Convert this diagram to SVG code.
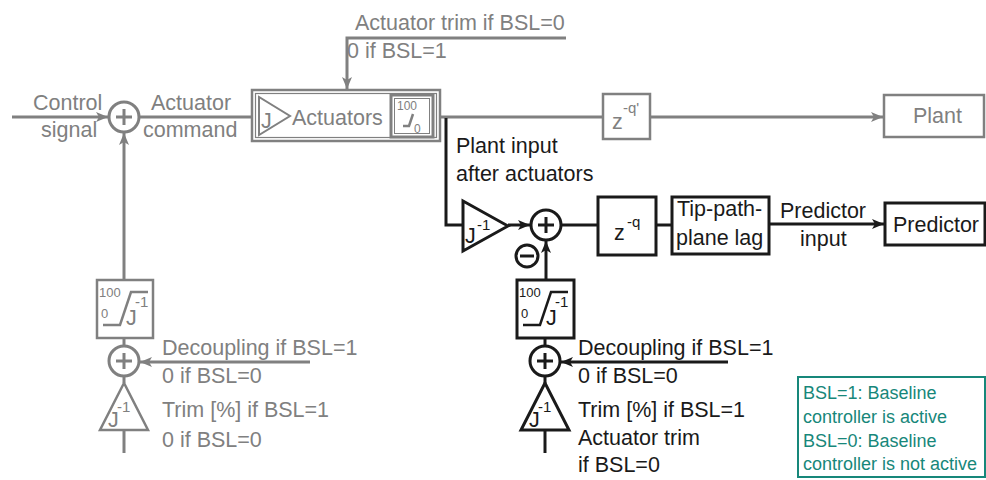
<svg xmlns="http://www.w3.org/2000/svg" width="986" height="480" viewBox="0 0 986 480">
<style>
  .g{stroke:#808080;fill:none;stroke-width:3}
  .k{stroke:#1a1a1a;fill:none;stroke-width:3}
  .gb{stroke:#808080;fill:#fff;stroke-width:2.5}
  .kb{stroke:#1a1a1a;fill:#fff;stroke-width:3}
  text{font-family:"Liberation Sans",Arial,sans-serif;font-size:21.5px}
  .tg{fill:#808080}
  .tk{fill:#1a1a1a}
  .sm{font-size:12px}
  .sup{font-size:15px}
  .s13{font-size:13px}
  .teal{fill:#17877a;font-size:18px}
</style>
<defs>
  <marker id="ag" markerUnits="userSpaceOnUse" markerWidth="14" markerHeight="12" refX="12" refY="6" orient="auto">
    <path d="M0,1 L12,6 L0,11 L3,6 Z" fill="#808080"/>
  </marker>
  <marker id="ak" markerUnits="userSpaceOnUse" markerWidth="14" markerHeight="12" refX="12" refY="6" orient="auto">
    <path d="M0,1 L12,6 L0,11 L3,6 Z" fill="#1a1a1a"/>
  </marker>
</defs>

<g id="connectors">
  <line class="g" x1="12" y1="117" x2="108" y2="117" marker-end="url(#ag)"/>
  <line class="g" x1="140" y1="117" x2="252" y2="117"/>
  <polyline class="g" points="566,38 347,38 347,89" marker-end="url(#ag)"/>
  <line class="g" x1="440" y1="117" x2="603" y2="117"/>
  <line class="g" x1="650" y1="117" x2="883" y2="117" marker-end="url(#ag)"/>
  <line class="g" x1="124" y1="280" x2="124" y2="133" marker-end="url(#ag)"/>
  <line class="g" x1="124" y1="338" x2="124" y2="346"/>
  <line class="g" x1="310" y1="362" x2="140" y2="362" marker-end="url(#ag)"/>
  <line class="g" x1="124" y1="376" x2="124" y2="383"/>
  <line class="g" x1="124" y1="430" x2="124" y2="453"/>
  <polyline class="k" points="446,118 446,225 463,225"/>
  <line class="k" x1="508" y1="225" x2="530" y2="225" marker-end="url(#ak)"/>
  <line class="k" x1="546" y1="280" x2="546" y2="241" marker-end="url(#ak)"/>
  <line class="k" x1="561" y1="225" x2="598" y2="225"/>
  <line class="k" x1="656" y1="225" x2="672" y2="225"/>
  <line class="k" x1="769" y1="224" x2="884" y2="224" marker-end="url(#ak)"/>
  <line class="k" x1="545" y1="338" x2="545" y2="346"/>
  <line class="k" x1="728" y1="362" x2="561" y2="362" marker-end="url(#ak)"/>
  <line class="k" x1="545" y1="376" x2="545" y2="383"/>
  <line class="k" x1="545" y1="430" x2="545" y2="453"/>
</g>

<g id="labels">
  <text class="tg" x="33" y="110">Control</text>
  <text class="tg" x="41" y="137">signal</text>
  <text class="tg" x="151" y="110">Actuator</text>
  <text class="tg" x="143" y="137">command</text>
  <text class="tg" x="355" y="30">Actuator trim if BSL=0</text>
  <text class="tg" x="347" y="58">0 if BSL=1</text>
  <text class="tk" x="456" y="153">Plant input</text>
  <text class="tk" x="456" y="181">after actuators</text>
  <text class="tk" x="780" y="218">Predictor</text>
  <text class="tk" x="800" y="246">input</text>
  <text class="tg" x="162" y="355">Decoupling if BSL=1</text>
  <text class="tg" x="162" y="383">0 if BSL=0</text>
  <text class="tg" x="162" y="417">Trim [%] if BSL=1</text>
  <text class="tg" x="162" y="447">0 if BSL=0</text>
  <text class="tk" x="578" y="355">Decoupling if BSL=1</text>
  <text class="tk" x="578" y="383">0 if BSL=0</text>
  <text class="tk" x="578" y="417">Trim [%] if BSL=1</text>
  <text class="tk" x="578" y="445">Actuator trim</text>
  <text class="tk" x="578" y="472">if BSL=0</text>
</g>

<g id="sum-top">
  <circle class="g" cx="124" cy="117" r="15" fill="#fff"/>
  <path class="g" d="M116,117 H132 M124,109 V125" stroke-width="2.5"/>
</g>

<g id="actuators">
  <rect class="gb" x="252" y="90" width="188" height="51" stroke-width="3"/>
  <rect x="255.5" y="93.5" width="181" height="44" fill="none" stroke="#808080" stroke-width="1.2"/>
  <polygon points="259,97 259,135 290,116" fill="none" stroke="#808080" stroke-width="2"/>
  <text class="tg" x="261" y="128">J</text>
  <text class="tg" x="292" y="125">Actuators</text>
  <rect x="391" y="95" width="42" height="42" fill="none" stroke="#808080" stroke-width="3"/>
  <rect x="394.5" y="98.5" width="35" height="35" fill="none" stroke="#808080" stroke-width="1"/>
  <text class="tg sm" x="397" y="110">100</text>
  <polyline points="403,126 409,126 413,114" fill="none" stroke="#808080" stroke-width="2.5"/>
  <text class="tg sm" x="414" y="133">0</text>
</g>

<g id="delay-plant">
  <rect class="gb" x="603" y="94" width="47" height="45"/>
  <text class="tg" x="612" y="129">z</text>
  <text class="tg sup" x="623" y="113">-q'</text>
</g>

<g id="plant">
  <rect class="gb" x="884" y="95" width="100" height="42"/>
  <text class="tg" x="913" y="123">Plant</text>
</g>

<g id="sat-left">
  <rect class="gb" x="97" y="280" width="56" height="58"/>
  <text class="tg s13" x="99" y="297">100</text>
  <text class="tg s13" x="101" y="318">0</text>
  <polyline points="103,325 120,325 131,292 148,292" fill="none" stroke="#808080" stroke-width="2.5"/>
  <text class="tg" x="126" y="325">J</text>
  <text class="tg sup" x="135" y="307">-1</text>
</g>

<g id="sum-left">
  <circle class="g" cx="124" cy="361" r="15" fill="#fff"/>
  <path class="g" d="M116,361 H132 M124,353 V369" stroke-width="2.5"/>
</g>

<g id="gain-left">
  <polygon points="124,383 100,430 148,430" fill="#fff" stroke="#808080" stroke-width="2.5"/>
  <text class="tg" x="108" y="427" font-size="19">J</text>
  <text class="tg sup" x="117" y="412" font-size="14">-1</text>
</g>

<g id="gain-jinv">
  <polygon points="463,201 463,251 508,226" fill="#fff" stroke="#1a1a1a" stroke-width="3"/>
  <text class="tk" x="465" y="243">J</text>
  <text class="tk sup" x="477" y="230">-1</text>
</g>

<g id="sum-right">
  <circle class="k" cx="546" cy="225" r="15" fill="#fff"/>
  <path class="k" d="M538,225 H554 M546,217 V233" stroke-width="2.5"/>
</g>

<g id="minus">
  <circle class="k" cx="527" cy="256" r="11" fill="#fff" stroke-width="2.5"/>
  <line class="k" x1="520" y1="256" x2="534" y2="256" stroke-width="2.5"/>
</g>

<g id="delay-q">
  <rect class="kb" x="598" y="197" width="58" height="58"/>
  <text class="tk" x="614" y="240">z</text>
  <text class="tk sup" x="627" y="227" font-size="17">-q</text>
</g>

<g id="tpp-lag">
  <rect class="kb" x="672" y="197" width="97" height="57"/>
  <text class="tk" x="677" y="216">Tip-path-</text>
  <text class="tk" x="676" y="245">plane lag</text>
</g>

<g id="predictor">
  <rect class="kb" x="885" y="203" width="100" height="42"/>
  <text class="tk" x="893" y="232">Predictor</text>
</g>

<g id="sat-right">
  <rect class="kb" x="517" y="280" width="57" height="58"/>
  <text class="tk s13" x="519" y="297">100</text>
  <text class="tk s13" x="521" y="318">0</text>
  <polyline points="523,325 540,325 551,292 568,292" fill="none" stroke="#1a1a1a" stroke-width="2.5"/>
  <text class="tk" x="546" y="325">J</text>
  <text class="tk sup" x="555" y="307">-1</text>
</g>

<g id="sum-right-low">
  <circle class="k" cx="545" cy="361" r="15" fill="#fff"/>
  <path class="k" d="M537,361 H553 M545,353 V369" stroke-width="2.5"/>
</g>

<g id="gain-right">
  <polygon points="545,383 521,430 569,430" fill="#fff" stroke="#1a1a1a" stroke-width="3"/>
  <text class="tk" x="529" y="427" font-size="19">J</text>
  <text class="tk sup" x="538" y="412" font-size="14">-1</text>
</g>

<g id="legend">
  <rect x="798" y="377" width="187" height="100" fill="#fff" stroke="#17877a" stroke-width="2"/>
  <text class="teal" x="803" y="399">BSL=1: Baseline</text>
  <text class="teal" x="803" y="423">controller is active</text>
  <text class="teal" x="803" y="447">BSL=0: Baseline</text>
  <text class="teal" x="803" y="470">controller is not active</text>
</g>
</svg>
